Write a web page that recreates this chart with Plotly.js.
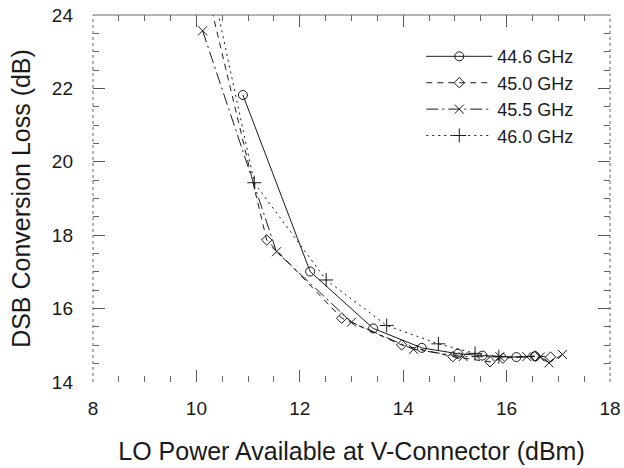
<!DOCTYPE html>
<html>
<head>
<meta charset="utf-8">
<script src="https://cdn.plot.ly/plotly-3.0.1.min.js"></script>
<style>html,body{margin:0;padding:0;background:#fff;}#chart{width:624px;height:468px;}</style>
</head>
<body>
<div id="chart"></div>
<script>
// Series names
var seriesNames = ["44.6 GHz", "45.0 GHz", "45.5 GHz", "46.0 GHz"];

// 44.6 GHz (solid, open circles)
var x446 = [10.90, 12.20, 13.42, 14.36, 15.06, 15.53, 16.19, 16.55];
var y446 = [21.82, 17.01, 15.46, 14.93, 14.77, 14.72, 14.68, 14.70];

// 45.0 GHz (dashed, open diamonds)
var x450 = [10.15, 11.36, 12.81, 13.97, 14.96, 15.68, 15.93, 16.55, 16.85];
var y450 = [25.00, 17.87, 15.74, 15.01, 14.69, 14.55, 14.65, 14.71, 14.68];

// 45.5 GHz (dash-dot, crosses)
var x455 = [10.12, 11.55, 13.00, 14.20, 15.16, 15.87, 16.39, 16.65, 16.82, 17.08];
var y455 = [23.57, 17.55, 15.63, 14.89, 14.69, 14.69, 14.69, 14.68, 14.52, 14.75];

// 46.0 GHz (dotted, plus)
var x460 = [10.20, 11.12, 12.51, 13.68, 14.68, 15.39, 15.85];
var y460 = [25.50, 19.43, 16.78, 15.54, 15.04, 14.78, 14.69];

// Axis ticks
var xTicks = [8, 10, 12, 14, 16, 18];
var yTicks = [14, 16, 18, 20, 22, 24];

var ink = '#1a1a1a';
var FONT = 'Liberation Sans, Arial, Helvetica, sans-serif';

function tr(name, xs, ys, dash, symbol, size, grp) {
  return {
    type: 'scatter', mode: 'lines+markers', name: name, x: xs, y: ys,
    legendgroup: grp,
    line: {color: ink, width: 1, dash: dash},
    marker: {symbol: symbol, size: size, color: ink, line: {color: ink, width: 1}},
    cliponaxis: true
  };
}

var data = [
  tr(seriesNames[0], x446, y446, 'solid', 'circle-open', 9, 'a'),
  tr(seriesNames[1], x450, y450, '6px,5px', 'diamond-open', 8, 'b'),
  tr(seriesNames[2], x455, y455, '12px,4px,2px,4px', 'x-thin-open', 9, 'c'),
  tr(seriesNames[3], x460, y460, '2px,4px', 'cross-thin-open', 10, 'd')
];

var layout = {
  width: 624, height: 468,
  margin: {l: 93, r: 14, t: 15, b: 86},
  paper_bgcolor: '#fff', plot_bgcolor: '#fff',
  font: {family: FONT, color: ink},
  showlegend: true,
  legend: {
    x: 0.635, y: 0.937, xanchor: 'left', yanchor: 'top',
    bgcolor: 'rgba(255,255,255,0)', borderwidth: 0,
    font: {family: FONT, size: 18, color: ink},
    itemwidth: 66, traceorder: 'grouped', tracegroupgap: 0
  },
  xaxis: {
    range: [8, 18], tickvals: xTicks, ticktext: xTicks.map(String),
    ticks: 'inside', ticklen: 12, tickwidth: 1, tickcolor: '#555',
    showline: false, mirror: 'ticks', showgrid: false, zeroline: false,
    tickfont: {family: FONT, size: 19, color: ink},
    ticklabelstandoff: 13,
    minor: {dtick: 0.5, ticks: 'inside', ticklen: 6, tickcolor: '#666', tickwidth: 1, showgrid: false},
    title: {text: 'LO Power Available at V-Connector (dBm)', font: {family: FONT, size: 25, color: ink}, standoff: 24}
  },
  yaxis: {
    range: [14, 24], tickvals: yTicks, ticktext: yTicks.map(String),
    ticks: 'inside', ticklen: 12, tickwidth: 1, tickcolor: '#555',
    showline: false, mirror: 'ticks', showgrid: false, zeroline: false,
    tickfont: {family: FONT, size: 19, color: ink},
    ticklabelstandoff: 19,
    minor: {dtick: 0.5, ticks: 'inside', ticklen: 6, tickcolor: '#666', tickwidth: 1, showgrid: false},
    title: {text: 'DSB Conversion Loss (dB)', font: {family: FONT, size: 25, color: ink}, standoff: 14}
  },
  shapes: [
    {type: 'line', xref: 'paper', yref: 'paper', x0: 0, x1: 1, y0: 1, y1: 1, line: {color: '#666', width: 1}},
    {type: 'line', xref: 'paper', yref: 'paper', x0: 0, x1: 0, y0: 0, y1: 1, line: {color: '#666', width: 1, dash: 'dot'}},
    {type: 'line', xref: 'paper', yref: 'paper', x0: 1, x1: 1, y0: 0, y1: 1, line: {color: '#666', width: 1, dash: 'dot'}}
  ]
};

Plotly.newPlot('chart', data, layout, {staticPlot: true, displayModeBar: false});
</script>
</body>
</html>
